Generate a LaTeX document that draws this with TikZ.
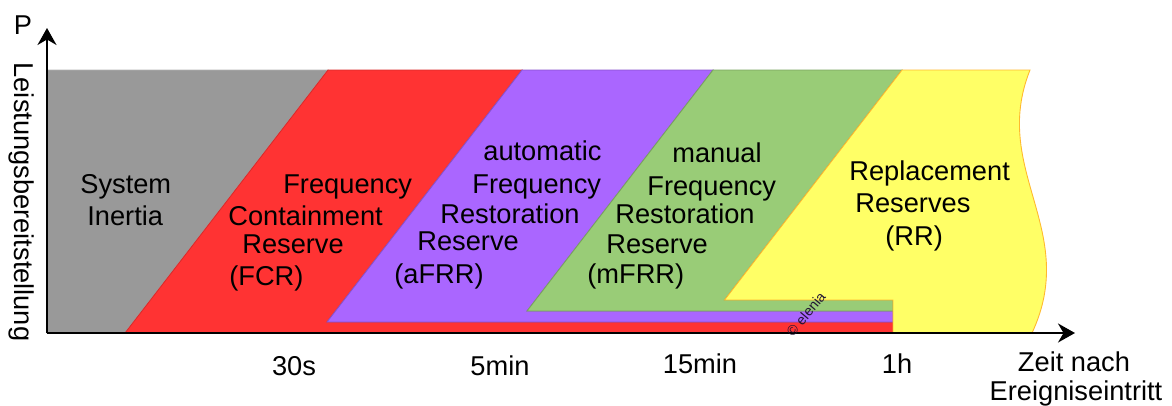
\documentclass[tikz,border=0pt]{standalone}
\usepackage{fontspec}
\setmainfont{Liberation Sans}
\usepackage{xcolor}
\usepackage{tikz}
\usetikzlibrary{arrows.meta}
\definecolor{inertiagray}{HTML}{999999}
\definecolor{fcrred}{HTML}{FF3333}
\definecolor{afrrpurple}{HTML}{AA66FF}
\definecolor{mfrrgreen}{HTML}{99CC77}
\definecolor{rryellow}{HTML}{FFFF66}
\tikzstyle{inertia area}=[fill=inertiagray, draw=inertiagray!75!white, line width=0.5pt]
\tikzstyle{fcr area}=[fill=fcrred, draw=fcrred!85!black, line width=0.5pt]
\tikzstyle{afrr area}=[fill=afrrpurple, draw=afrrpurple!80!black, line width=0.5pt]
\tikzstyle{mfrr area}=[fill=mfrrgreen, draw=mfrrgreen!80!black, line width=0.5pt]
\tikzstyle{rr area}=[fill=rryellow, draw=orange!55!rryellow, line width=0.5pt]
\tikzstyle{axis}=[draw=black, line width=1.1pt, -{Stealth[length=0.34cm, width=0.38cm]}]
\tikzstyle{area text}=[anchor=base west, inner sep=0pt, font=\fontsize{15.5}{17}\selectfont]
\tikzstyle{tick text}=[anchor=base, inner sep=0pt, font=\fontsize{15.5}{17}\selectfont]
\pgfdeclarelayer{arealayer}
\pgfsetlayers{arealayer,main}

\begin{document}
\begin{tikzpicture}
	\useasboundingbox (-0.94, -1.44) rectangle (22.5, 6.66);
	\begin{pgfonlayer}{arealayer}
		\draw [style=inertia area] (0, 0) -- (0, 5.26) -- (5.62, 5.26) -- (1.56, 0) -- cycle;
		\draw [style=fcr area] (1.56, 0) -- (5.62, 5.26) -- (9.5, 5.26) -- (5.6, 0.22) -- (16.92, 0.22) -- (16.92, 0) -- cycle;
		\draw [style=afrr area] (5.6, 0.22) -- (9.5, 5.26) -- (13.32, 5.26) -- (9.6, 0.44) -- (16.92, 0.44) -- (16.92, 0.22) -- cycle;
		\draw [style=mfrr area] (9.6, 0.44) -- (13.32, 5.26) -- (17.1, 5.26) -- (13.55, 0.66) -- (16.92, 0.66) -- (16.92, 0.44) -- cycle;
		\draw [style=rr area] (13.55, 0.66) -- (17.1, 5.26) -- (19.66, 5.26) .. controls (18.86, 3.26) and (20.66, 2.06) .. (19.7, 0) -- (16.92, 0) -- (16.92, 0.66) -- cycle;
	\end{pgfonlayer}
	% axes
	\coordinate (0) at (0, 0);
	\coordinate (1) at (0, 6.1);
	\coordinate (2) at (20.56, 0);
	\draw [style=axis] (0) to (1);
	\draw [style=axis] (0) to (2);
	\node [font=\fontsize{15.5}{17}\selectfont] (3) at (-0.48, 6.16) {P};
	\node [font=\fontsize{15.5}{17}\selectfont, rotate=-90] (4) at (-0.5, 2.62) {Leistungsbereitstellung};
	% time marks
	\node [style=tick text] (5) at (4.94, -0.84) {30s};
	\node [style=tick text] (6) at (9.06, -0.84) {5min};
	\node [style=tick text] (7) at (13.06, -0.8) {15min};
	\node [style=tick text] (8) at (17.0, -0.8) {1h};
	\node [style=tick text] (9) at (20.54, -0.76) {Zeit nach};
	\node [style=tick text] (10) at (20.58, -1.34) {Ereigniseintritt};
	% reserve names
	\node [style=area text] (11) at (0.66, 2.8) {System};
	\node [style=area text] (12) at (0.8, 2.16) {Inertia};
	\node [style=area text] (13) at (4.72, 2.8) {Frequency};
	\node [style=area text] (14) at (3.62, 2.16) {Containment};
	\node [style=area text] (15) at (3.9, 1.6) {Reserve};
	\node [style=area text] (16) at (3.64, 0.96) {(FCR)};
	\node [style=area text] (17) at (8.72, 3.46) {automatic};
	\node [style=area text] (18) at (8.5, 2.8) {Frequency};
	\node [style=area text] (19) at (7.86, 2.2) {Restoration};
	\node [style=area text] (20) at (7.4, 1.66) {Reserve};
	\node [style=area text] (21) at (6.94, 1.0) {(aFRR)};
	\node [style=area text] (22) at (12.5, 3.42) {manual};
	\node [style=area text] (23) at (12.0, 2.76) {Frequency};
	\node [style=area text] (24) at (11.36, 2.2) {Restoration};
	\node [style=area text] (25) at (11.18, 1.6) {Reserve};
	\node [style=area text] (26) at (10.8, 1.0) {(mFRR)};
	\node [style=area text] (27) at (16.04, 3.06) {Replacement};
	\node [style=area text] (28) at (16.16, 2.42) {Reserves};
	\node [style=area text] (29) at (16.76, 1.76) {(RR)};
	\node [font=\fontsize{8}{9}\selectfont, rotate=50, inner sep=0pt, text=black!80!afrrpurple] (30) at (15.18, 0.38) {© elenia};
\end{tikzpicture}
\end{document}
